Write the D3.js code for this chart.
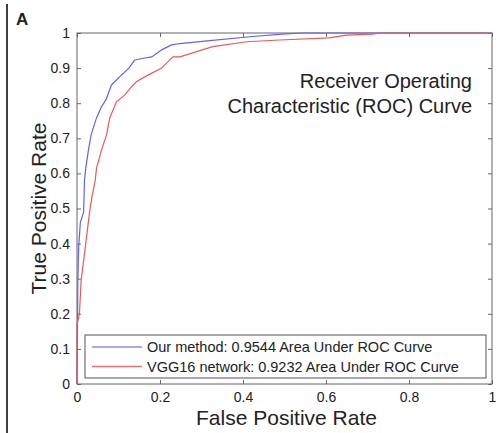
<!DOCTYPE html>
<meta charset="utf-8">
<style>
  body { margin: 0; background: #fff; }
  text { font-family: "Liberation Sans", Arial, sans-serif; fill: #222; }
</style>
<svg width="501" height="433"></svg>
<script src="https://cdn.jsdelivr.net/npm/d3@7"></script>
<script>

// ROC points: false positive rate / true positive rate
var oursFpr = [0, 0.002, 0.004, 0.008, 0.016, 0.018, 0.021, 0.028, 0.034, 0.047, 0.059, 0.07, 0.083, 0.107, 0.125, 0.139, 0.16, 0.18, 0.204, 0.228, 0.248, 0.32, 0.423, 0.495, 0.543, 1];
var oursTpr = [0, 0.29, 0.39, 0.46, 0.49, 0.58, 0.615, 0.67, 0.71, 0.758, 0.79, 0.81, 0.852, 0.88, 0.9, 0.923, 0.928, 0.932, 0.952, 0.966, 0.97, 0.978, 0.99, 0.997, 1, 1];

var vggFpr = [0, 0, 0.004, 0.006, 0.01, 0.02, 0.03, 0.036, 0.044, 0.047, 0.06, 0.071, 0.079, 0.095, 0.115, 0.13, 0.143, 0.171, 0.204, 0.231, 0.248, 0.327, 0.409, 0.488, 0.608, 0.649, 0.712, 0.73, 1];
var vggTpr = [0, 0.17, 0.19, 0.202, 0.296, 0.39, 0.487, 0.533, 0.581, 0.615, 0.67, 0.709, 0.758, 0.804, 0.823, 0.845, 0.861, 0.88, 0.9, 0.932, 0.932, 0.961, 0.975, 0.98, 0.986, 0.994, 0.997, 1, 1];

var seriesNames = ["Our method: 0.9544 Area Under ROC Curve", "VGG16 network: 0.9232 Area Under ROC Curve"];
var seriesColors = ["#6262ee", "#e65c5c"];
var legendColors = ["#8c8cf0", "#e27272"];

var xTicks = [0, 0.2, 0.4, 0.6, 0.8, 1];
var yTicks = [0, 0.1, 0.2, 0.3, 0.4, 0.5, 0.6, 0.7, 0.8, 0.9, 1];

var svg = d3.select("svg");

var plotL = 77, plotR = 492, plotT = 33, plotB = 384;

var x = d3.scaleLinear().domain([0, 1]).range([plotL, plotR]);
var y = d3.scaleLinear().domain([0, 1]).range([plotB, plotT]);

// panel letter and rule on the left
svg.append("line")
  .attr("x1", 7).attr("x2", 7).attr("y1", 4).attr("y2", 433)
  .attr("stroke", "#000").attr("stroke-width", 1.5);
svg.append("text")
  .attr("x", 16).attr("y", 25)
  .style("font-size", "17px").style("font-weight", "bold")
  .text("A");

// plot box
svg.append("rect")
  .attr("x", plotL).attr("y", plotT)
  .attr("width", plotR - plotL).attr("height", plotB - plotT)
  .attr("fill", "none").attr("stroke", "#666").attr("stroke-width", 1);

function styleAxis(g) {
  g.select(".domain").remove();
  g.selectAll(".tick line").attr("stroke", "#666");
  g.selectAll(".tick text").style("font-size", "14px").attr("fill", "#333");
}

svg.append("g")
  .attr("transform", "translate(0," + plotB + ")")
  .call(d3.axisBottom(x).tickValues(xTicks).tickFormat(d3.format("~g")).tickSizeInner(-4).tickPadding(8))
  .call(styleAxis);
svg.append("g")
  .attr("transform", "translate(0," + plotT + ")")
  .call(d3.axisTop(x).tickValues(xTicks).tickFormat("").tickSizeInner(-4))
  .call(styleAxis);
svg.append("g")
  .attr("transform", "translate(" + plotL + ",0)")
  .call(d3.axisLeft(y).tickValues(yTicks).tickFormat(d3.format("~g")).tickSizeInner(-4).tickPadding(7))
  .call(styleAxis);
svg.append("g")
  .attr("transform", "translate(" + plotR + ",0)")
  .call(d3.axisRight(y).tickValues(yTicks).tickFormat("").tickSizeInner(-4))
  .call(styleAxis);

// curves
var line = d3.line()
  .x(d => x(d[0]))
  .y(d => y(d[1]));

var series = [
  d3.zip(oursFpr, oursTpr),
  d3.zip(vggFpr, vggTpr)
];

svg.selectAll(".roc")
  .data(series)
  .enter().append("path")
    .attr("class", "roc")
    .attr("d", line)
    .attr("fill", "none")
    .attr("stroke", (d, i) => seriesColors[i])
    .attr("stroke-width", 1.2);

// title inside the plot
svg.append("text")
  .attr("x", 472).attr("y", 88)
  .attr("text-anchor", "end")
  .style("font-size", "20px")
  .text("Receiver Operating");
svg.append("text")
  .attr("x", 472).attr("y", 113)
  .attr("text-anchor", "end")
  .style("font-size", "20px")
  .text("Characteristic (ROC) Curve");

// axis labels
svg.append("text")
  .attr("x", (plotL + plotR) / 2 + 2).attr("y", 425)
  .attr("text-anchor", "middle")
  .style("font-size", "21px")
  .text("False Positive Rate");
svg.append("text")
  .attr("transform", "translate(46," + ((plotT + plotB) / 2) + ") rotate(-90)")
  .attr("text-anchor", "middle")
  .style("font-size", "21px")
  .text("True Positive Rate");

// legend
var legend = svg.append("g");
legend.append("rect")
  .attr("x", 85).attr("y", 335)
  .attr("width", 401).attr("height", 43)
  .attr("fill", "#fff").attr("stroke", "#555").attr("stroke-width", 1);

var items = legend.selectAll(".item")
  .data(seriesNames)
  .enter().append("g")
    .attr("class", "item")
    .attr("transform", (d, i) => "translate(0," + (347 + i * 19.5) + ")");
items.append("line")
  .attr("x1", 92).attr("x2", 142)
  .attr("stroke", (d, i) => legendColors[i])
  .attr("stroke-width", 1.4);
items.append("text")
  .attr("x", 147).attr("y", 5)
  .style("font-size", "14.5px")
  .attr("fill", "#222")
  .text(d => d);

</script>
